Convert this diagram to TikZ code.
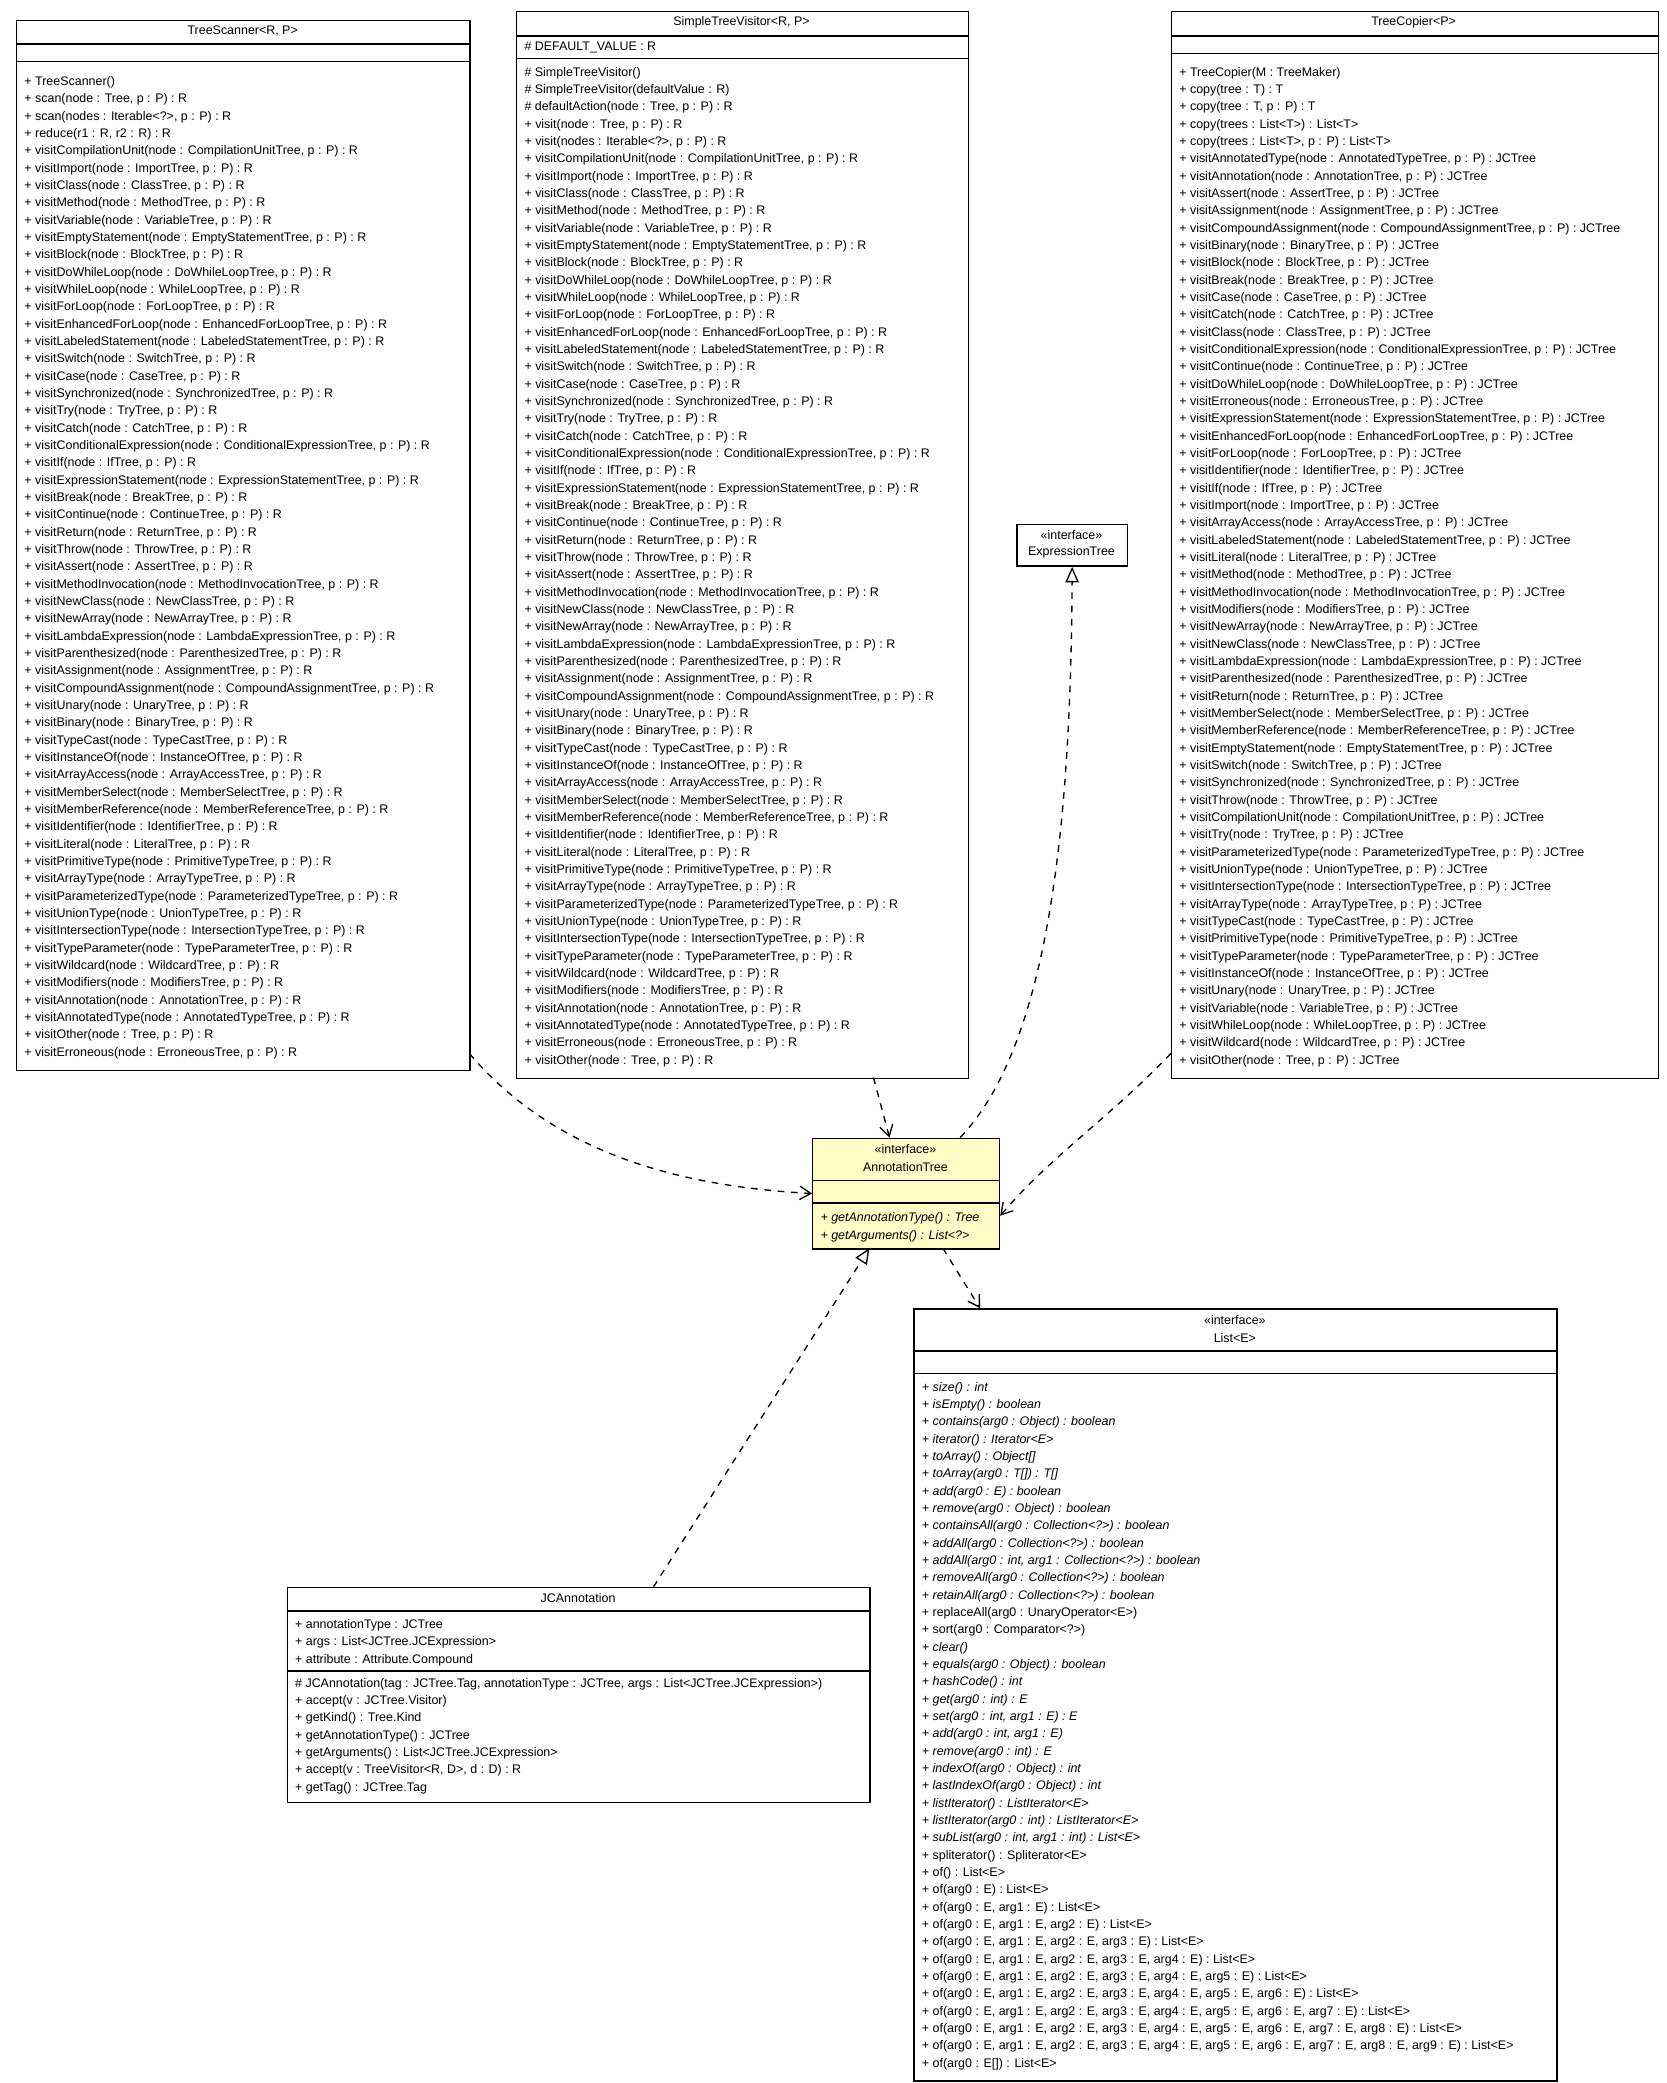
\documentclass[tikz,border=0pt]{standalone}
\usepackage{fontspec}
\setmainfont{Liberation Sans}
\usetikzlibrary{arrows.meta,positioning}
\begin{document}
\begin{tikzpicture}[x=0.6pt,y=-0.6pt,
    cls/.style={draw=black,line width=0.6pt,inner sep=0pt,anchor=north west},
    ttl/.style={inner sep=0pt,font=\fontsize{5.6}{7.8}\selectfont},
    mem/.style={inner sep=0pt,anchor=north west,align=left,font=\fontsize{5.6}{7.8}\selectfont},
    sep/.style={line width=0.6pt},
    dep/.style={dashed,line width=0.6pt,-{Straight Barb[length=5pt,width=6pt]}},
    real/.style={dashed,line width=0.6pt,-{Triangle[open,length=7pt,width=6pt]}},
  ]
  \useasboundingbox (0,0) rectangle (1250,1562);

  % TreeScanner
  \node[cls,minimum width=204pt,minimum height=472.2pt] (ts) at (12,15) {};
  \node[ttl] (ts-t) at (182,23) {TreeScanner<R, P>};
  \draw[sep] (12,33) -- (352,33) (12,46) -- (352,46);
  \node[mem] (ts-m) at (18,57) {+ TreeScanner()\\
+ scan(node : Tree, p : P) : R\\
+ scan(nodes : Iterable<?>, p : P) : R\\
+ reduce(r1 : R, r2 : R) : R\\
+ visitCompilationUnit(node : CompilationUnitTree, p : P) : R\\
+ visitImport(node : ImportTree, p : P) : R\\
+ visitClass(node : ClassTree, p : P) : R\\
+ visitMethod(node : MethodTree, p : P) : R\\
+ visitVariable(node : VariableTree, p : P) : R\\
+ visitEmptyStatement(node : EmptyStatementTree, p : P) : R\\
+ visitBlock(node : BlockTree, p : P) : R\\
+ visitDoWhileLoop(node : DoWhileLoopTree, p : P) : R\\
+ visitWhileLoop(node : WhileLoopTree, p : P) : R\\
+ visitForLoop(node : ForLoopTree, p : P) : R\\
+ visitEnhancedForLoop(node : EnhancedForLoopTree, p : P) : R\\
+ visitLabeledStatement(node : LabeledStatementTree, p : P) : R\\
+ visitSwitch(node : SwitchTree, p : P) : R\\
+ visitCase(node : CaseTree, p : P) : R\\
+ visitSynchronized(node : SynchronizedTree, p : P) : R\\
+ visitTry(node : TryTree, p : P) : R\\
+ visitCatch(node : CatchTree, p : P) : R\\
+ visitConditionalExpression(node : ConditionalExpressionTree, p : P) : R\\
+ visitIf(node : IfTree, p : P) : R\\
+ visitExpressionStatement(node : ExpressionStatementTree, p : P) : R\\
+ visitBreak(node : BreakTree, p : P) : R\\
+ visitContinue(node : ContinueTree, p : P) : R\\
+ visitReturn(node : ReturnTree, p : P) : R\\
+ visitThrow(node : ThrowTree, p : P) : R\\
+ visitAssert(node : AssertTree, p : P) : R\\
+ visitMethodInvocation(node : MethodInvocationTree, p : P) : R\\
+ visitNewClass(node : NewClassTree, p : P) : R\\
+ visitNewArray(node : NewArrayTree, p : P) : R\\
+ visitLambdaExpression(node : LambdaExpressionTree, p : P) : R\\
+ visitParenthesized(node : ParenthesizedTree, p : P) : R\\
+ visitAssignment(node : AssignmentTree, p : P) : R\\
+ visitCompoundAssignment(node : CompoundAssignmentTree, p : P) : R\\
+ visitUnary(node : UnaryTree, p : P) : R\\
+ visitBinary(node : BinaryTree, p : P) : R\\
+ visitTypeCast(node : TypeCastTree, p : P) : R\\
+ visitInstanceOf(node : InstanceOfTree, p : P) : R\\
+ visitArrayAccess(node : ArrayAccessTree, p : P) : R\\
+ visitMemberSelect(node : MemberSelectTree, p : P) : R\\
+ visitMemberReference(node : MemberReferenceTree, p : P) : R\\
+ visitIdentifier(node : IdentifierTree, p : P) : R\\
+ visitLiteral(node : LiteralTree, p : P) : R\\
+ visitPrimitiveType(node : PrimitiveTypeTree, p : P) : R\\
+ visitArrayType(node : ArrayTypeTree, p : P) : R\\
+ visitParameterizedType(node : ParameterizedTypeTree, p : P) : R\\
+ visitUnionType(node : UnionTypeTree, p : P) : R\\
+ visitIntersectionType(node : IntersectionTypeTree, p : P) : R\\
+ visitTypeParameter(node : TypeParameterTree, p : P) : R\\
+ visitWildcard(node : WildcardTree, p : P) : R\\
+ visitModifiers(node : ModifiersTree, p : P) : R\\
+ visitAnnotation(node : AnnotationTree, p : P) : R\\
+ visitAnnotatedType(node : AnnotatedTypeTree, p : P) : R\\
+ visitOther(node : Tree, p : P) : R\\
+ visitErroneous(node : ErroneousTree, p : P) : R};

  % SimpleTreeVisitor
  \node[cls,minimum width=203.4pt,minimum height=480pt] (stv) at (387,8) {};
  \node[ttl] (stv-t) at (556,17) {SimpleTreeVisitor<R, P>};
  \draw[sep] (387,27) -- (726,27) (387,44) -- (726,44);
  \node[mem] (stv-a) at (393,31) {\# DEFAULT\_VALUE : R};
  \node[mem] (stv-m) at (393,50) {\# SimpleTreeVisitor()\\
\# SimpleTreeVisitor(defaultValue : R)\\
\# defaultAction(node : Tree, p : P) : R\\
+ visit(node : Tree, p : P) : R\\
+ visit(nodes : Iterable<?>, p : P) : R\\
+ visitCompilationUnit(node : CompilationUnitTree, p : P) : R\\
+ visitImport(node : ImportTree, p : P) : R\\
+ visitClass(node : ClassTree, p : P) : R\\
+ visitMethod(node : MethodTree, p : P) : R\\
+ visitVariable(node : VariableTree, p : P) : R\\
+ visitEmptyStatement(node : EmptyStatementTree, p : P) : R\\
+ visitBlock(node : BlockTree, p : P) : R\\
+ visitDoWhileLoop(node : DoWhileLoopTree, p : P) : R\\
+ visitWhileLoop(node : WhileLoopTree, p : P) : R\\
+ visitForLoop(node : ForLoopTree, p : P) : R\\
+ visitEnhancedForLoop(node : EnhancedForLoopTree, p : P) : R\\
+ visitLabeledStatement(node : LabeledStatementTree, p : P) : R\\
+ visitSwitch(node : SwitchTree, p : P) : R\\
+ visitCase(node : CaseTree, p : P) : R\\
+ visitSynchronized(node : SynchronizedTree, p : P) : R\\
+ visitTry(node : TryTree, p : P) : R\\
+ visitCatch(node : CatchTree, p : P) : R\\
+ visitConditionalExpression(node : ConditionalExpressionTree, p : P) : R\\
+ visitIf(node : IfTree, p : P) : R\\
+ visitExpressionStatement(node : ExpressionStatementTree, p : P) : R\\
+ visitBreak(node : BreakTree, p : P) : R\\
+ visitContinue(node : ContinueTree, p : P) : R\\
+ visitReturn(node : ReturnTree, p : P) : R\\
+ visitThrow(node : ThrowTree, p : P) : R\\
+ visitAssert(node : AssertTree, p : P) : R\\
+ visitMethodInvocation(node : MethodInvocationTree, p : P) : R\\
+ visitNewClass(node : NewClassTree, p : P) : R\\
+ visitNewArray(node : NewArrayTree, p : P) : R\\
+ visitLambdaExpression(node : LambdaExpressionTree, p : P) : R\\
+ visitParenthesized(node : ParenthesizedTree, p : P) : R\\
+ visitAssignment(node : AssignmentTree, p : P) : R\\
+ visitCompoundAssignment(node : CompoundAssignmentTree, p : P) : R\\
+ visitUnary(node : UnaryTree, p : P) : R\\
+ visitBinary(node : BinaryTree, p : P) : R\\
+ visitTypeCast(node : TypeCastTree, p : P) : R\\
+ visitInstanceOf(node : InstanceOfTree, p : P) : R\\
+ visitArrayAccess(node : ArrayAccessTree, p : P) : R\\
+ visitMemberSelect(node : MemberSelectTree, p : P) : R\\
+ visitMemberReference(node : MemberReferenceTree, p : P) : R\\
+ visitIdentifier(node : IdentifierTree, p : P) : R\\
+ visitLiteral(node : LiteralTree, p : P) : R\\
+ visitPrimitiveType(node : PrimitiveTypeTree, p : P) : R\\
+ visitArrayType(node : ArrayTypeTree, p : P) : R\\
+ visitParameterizedType(node : ParameterizedTypeTree, p : P) : R\\
+ visitUnionType(node : UnionTypeTree, p : P) : R\\
+ visitIntersectionType(node : IntersectionTypeTree, p : P) : R\\
+ visitTypeParameter(node : TypeParameterTree, p : P) : R\\
+ visitWildcard(node : WildcardTree, p : P) : R\\
+ visitModifiers(node : ModifiersTree, p : P) : R\\
+ visitAnnotation(node : AnnotationTree, p : P) : R\\
+ visitAnnotatedType(node : AnnotatedTypeTree, p : P) : R\\
+ visitErroneous(node : ErroneousTree, p : P) : R\\
+ visitOther(node : Tree, p : P) : R};

  % TreeCopier
  \node[cls,minimum width=219pt,minimum height=480pt] (tc) at (878,8) {};
  \node[ttl] (tc-t) at (1060,17) {TreeCopier<P>};
  \draw[sep] (878,27) -- (1243,27) (878,40) -- (1243,40);
  \node[mem] (tc-m) at (884,50) {+ TreeCopier(M : TreeMaker)\\
+ copy(tree : T) : T\\
+ copy(tree : T, p : P) : T\\
+ copy(trees : List<T>) : List<T>\\
+ copy(trees : List<T>, p : P) : List<T>\\
+ visitAnnotatedType(node : AnnotatedTypeTree, p : P) : JCTree\\
+ visitAnnotation(node : AnnotationTree, p : P) : JCTree\\
+ visitAssert(node : AssertTree, p : P) : JCTree\\
+ visitAssignment(node : AssignmentTree, p : P) : JCTree\\
+ visitCompoundAssignment(node : CompoundAssignmentTree, p : P) : JCTree\\
+ visitBinary(node : BinaryTree, p : P) : JCTree\\
+ visitBlock(node : BlockTree, p : P) : JCTree\\
+ visitBreak(node : BreakTree, p : P) : JCTree\\
+ visitCase(node : CaseTree, p : P) : JCTree\\
+ visitCatch(node : CatchTree, p : P) : JCTree\\
+ visitClass(node : ClassTree, p : P) : JCTree\\
+ visitConditionalExpression(node : ConditionalExpressionTree, p : P) : JCTree\\
+ visitContinue(node : ContinueTree, p : P) : JCTree\\
+ visitDoWhileLoop(node : DoWhileLoopTree, p : P) : JCTree\\
+ visitErroneous(node : ErroneousTree, p : P) : JCTree\\
+ visitExpressionStatement(node : ExpressionStatementTree, p : P) : JCTree\\
+ visitEnhancedForLoop(node : EnhancedForLoopTree, p : P) : JCTree\\
+ visitForLoop(node : ForLoopTree, p : P) : JCTree\\
+ visitIdentifier(node : IdentifierTree, p : P) : JCTree\\
+ visitIf(node : IfTree, p : P) : JCTree\\
+ visitImport(node : ImportTree, p : P) : JCTree\\
+ visitArrayAccess(node : ArrayAccessTree, p : P) : JCTree\\
+ visitLabeledStatement(node : LabeledStatementTree, p : P) : JCTree\\
+ visitLiteral(node : LiteralTree, p : P) : JCTree\\
+ visitMethod(node : MethodTree, p : P) : JCTree\\
+ visitMethodInvocation(node : MethodInvocationTree, p : P) : JCTree\\
+ visitModifiers(node : ModifiersTree, p : P) : JCTree\\
+ visitNewArray(node : NewArrayTree, p : P) : JCTree\\
+ visitNewClass(node : NewClassTree, p : P) : JCTree\\
+ visitLambdaExpression(node : LambdaExpressionTree, p : P) : JCTree\\
+ visitParenthesized(node : ParenthesizedTree, p : P) : JCTree\\
+ visitReturn(node : ReturnTree, p : P) : JCTree\\
+ visitMemberSelect(node : MemberSelectTree, p : P) : JCTree\\
+ visitMemberReference(node : MemberReferenceTree, p : P) : JCTree\\
+ visitEmptyStatement(node : EmptyStatementTree, p : P) : JCTree\\
+ visitSwitch(node : SwitchTree, p : P) : JCTree\\
+ visitSynchronized(node : SynchronizedTree, p : P) : JCTree\\
+ visitThrow(node : ThrowTree, p : P) : JCTree\\
+ visitCompilationUnit(node : CompilationUnitTree, p : P) : JCTree\\
+ visitTry(node : TryTree, p : P) : JCTree\\
+ visitParameterizedType(node : ParameterizedTypeTree, p : P) : JCTree\\
+ visitUnionType(node : UnionTypeTree, p : P) : JCTree\\
+ visitIntersectionType(node : IntersectionTypeTree, p : P) : JCTree\\
+ visitArrayType(node : ArrayTypeTree, p : P) : JCTree\\
+ visitTypeCast(node : TypeCastTree, p : P) : JCTree\\
+ visitPrimitiveType(node : PrimitiveTypeTree, p : P) : JCTree\\
+ visitTypeParameter(node : TypeParameterTree, p : P) : JCTree\\
+ visitInstanceOf(node : InstanceOfTree, p : P) : JCTree\\
+ visitUnary(node : UnaryTree, p : P) : JCTree\\
+ visitVariable(node : VariableTree, p : P) : JCTree\\
+ visitWhileLoop(node : WhileLoopTree, p : P) : JCTree\\
+ visitWildcard(node : WildcardTree, p : P) : JCTree\\
+ visitOther(node : Tree, p : P) : JCTree};

  % ExpressionTree
  \node[cls,minimum width=49.8pt,minimum height=18.6pt] (et) at (762,393) {};
  \node[ttl] (et-s) at (803.5,401) {«interface»};
  \node[ttl] (et-t) at (803.5,414) {ExpressionTree};

  % AnnotationTree
  \node[cls,fill=yellow!22,minimum width=84pt,minimum height=49.8pt] (at) at (609,853) {};
  \node[ttl] (at-s) at (679,862) {«interface»};
  \node[ttl] (at-t) at (679,875) {AnnotationTree};
  \draw[sep] (609,885) -- (749,885) (609,902) -- (749,902);
  \node[mem] (at-m) at (615,909) {\textit{+ getAnnotationType() : Tree}\\
\textit{+ getArguments() : List<?>}};

  % List<E>
  \node[cls,minimum width=289.2pt,minimum height=347.4pt] (lst) at (685,981) {};
  \node[ttl] (lst-s) at (926,990) {«interface»};
  \node[ttl] (lst-t) at (926,1003) {List<E>};
  \draw[sep] (685,1013) -- (1167,1013) (685,1030) -- (1167,1030);
  \node[mem] (lst-m) at (691,1036) {\textit{+ size() : int}\\
\textit{+ isEmpty() : boolean}\\
\textit{+ contains(arg0 : Object) : boolean}\\
\textit{+ iterator() : Iterator<E>}\\
\textit{+ toArray() : Object[]}\\
\textit{+ toArray(arg0 : T[]) : T[]}\\
\textit{+ add(arg0 : E) : boolean}\\
\textit{+ remove(arg0 : Object) : boolean}\\
\textit{+ containsAll(arg0 : Collection<?>) : boolean}\\
\textit{+ addAll(arg0 : Collection<?>) : boolean}\\
\textit{+ addAll(arg0 : int, arg1 : Collection<?>) : boolean}\\
\textit{+ removeAll(arg0 : Collection<?>) : boolean}\\
\textit{+ retainAll(arg0 : Collection<?>) : boolean}\\
+ replaceAll(arg0 : UnaryOperator<E>)\\
+ sort(arg0 : Comparator<?>)\\
\textit{+ clear()}\\
\textit{+ equals(arg0 : Object) : boolean}\\
\textit{+ hashCode() : int}\\
\textit{+ get(arg0 : int) : E}\\
\textit{+ set(arg0 : int, arg1 : E) : E}\\
\textit{+ add(arg0 : int, arg1 : E)}\\
\textit{+ remove(arg0 : int) : E}\\
\textit{+ indexOf(arg0 : Object) : int}\\
\textit{+ lastIndexOf(arg0 : Object) : int}\\
\textit{+ listIterator() : ListIterator<E>}\\
\textit{+ listIterator(arg0 : int) : ListIterator<E>}\\
\textit{+ subList(arg0 : int, arg1 : int) : List<E>}\\
+ spliterator() : Spliterator<E>\\
+ of() : List<E>\\
+ of(arg0 : E) : List<E>\\
+ of(arg0 : E, arg1 : E) : List<E>\\
+ of(arg0 : E, arg1 : E, arg2 : E) : List<E>\\
+ of(arg0 : E, arg1 : E, arg2 : E, arg3 : E) : List<E>\\
+ of(arg0 : E, arg1 : E, arg2 : E, arg3 : E, arg4 : E) : List<E>\\
+ of(arg0 : E, arg1 : E, arg2 : E, arg3 : E, arg4 : E, arg5 : E) : List<E>\\
+ of(arg0 : E, arg1 : E, arg2 : E, arg3 : E, arg4 : E, arg5 : E, arg6 : E) : List<E>\\
+ of(arg0 : E, arg1 : E, arg2 : E, arg3 : E, arg4 : E, arg5 : E, arg6 : E, arg7 : E) : List<E>\\
+ of(arg0 : E, arg1 : E, arg2 : E, arg3 : E, arg4 : E, arg5 : E, arg6 : E, arg7 : E, arg8 : E) : List<E>\\
+ of(arg0 : E, arg1 : E, arg2 : E, arg3 : E, arg4 : E, arg5 : E, arg6 : E, arg7 : E, arg8 : E, arg9 : E) : List<E>\\
+ of(arg0 : E[]) : List<E>};

  % JCAnnotation
  \node[cls,minimum width=262.2pt,minimum height=96.6pt] (jca) at (215,1190) {};
  \node[ttl] (jca-t) at (433.5,1198) {JCAnnotation};
  \draw[sep] (215,1208) -- (652,1208) (215,1253) -- (652,1253);
  \node[mem] (jca-a) at (221,1214) {+ annotationType : JCTree\\
+ args : List<JCTree.JCExpression>\\
+ attribute : Attribute.Compound};
  \node[mem] (jca-m) at (221,1258) {\# JCAnnotation(tag : JCTree.Tag, annotationType : JCTree, args : List<JCTree.JCExpression>)\\
+ accept(v : JCTree.Visitor)\\
+ getKind() : Tree.Kind\\
+ getAnnotationType() : JCTree\\
+ getArguments() : List<JCTree.JCExpression>\\
+ accept(v : TreeVisitor<R, D>, d : D) : R\\
+ getTag() : JCTree.Tag};

  % connectors
  \coordinate (ts-out) at (352,790);
  \coordinate (stv-out) at (655,808);
  \coordinate (at-in1) at (667,853);
  \coordinate (at-out1) at (720,853);
  \coordinate (tc-out) at (878,790);
  \coordinate (at-out2) at (707,936);
  \coordinate (lst-in) at (735,981);
  \coordinate (jca-out) at (490,1190);
  \coordinate (at-in2) at (652,936);
  \draw[dep] (ts-out) .. controls (420,870) and (520,890) .. (at.west);
  \draw[dep] (stv-out) -- (at-in1);
  \draw[real] (at-out1) .. controls (790,780) and (803,600) .. (et.south);
  \draw[dep] (tc-out) .. controls (830,840) and (790,865) .. ([yshift=-10]at.east);
  \draw[dep] (at-out2) -- (lst-in);
  \draw[real] (jca-out) -- (at-in2);
\end{tikzpicture}
\end{document}
